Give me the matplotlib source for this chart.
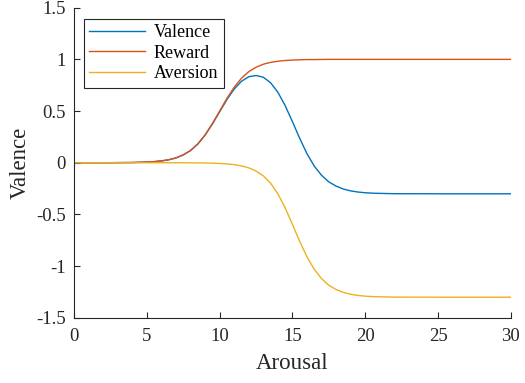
import numpy as np
import matplotlib
matplotlib.use('Agg')
import matplotlib.pyplot as plt

# values
arousal = [0, 2, 4, 5, 5.5, 6, 6.5, 7, 7.5, 8, 8.5, 9, 9.5, 10, 10.5, 11, 11.5,
           12, 12.5, 13, 13.5, 14, 14.5, 15, 15.5, 16, 16.5, 17, 17.5, 18, 18.5,
           19, 19.5, 20, 20.5, 21, 22, 25, 30]
reward = [0.0, 0.0003, 0.0025, 0.007, 0.011, 0.018, 0.029, 0.047, 0.076, 0.119,
          0.182, 0.269, 0.378, 0.500, 0.622, 0.731, 0.818, 0.881, 0.924, 0.953,
          0.971, 0.982, 0.989, 0.993, 0.996, 0.998, 0.998, 0.999, 1.0, 1.0, 1.0,
          1.0, 1.0, 1.0, 1.0, 1.0, 1.0, 1.0, 1.0]
aversion = [0.0, 0.0, 0.0, 0.0, 0.0, 0.0, 0.0, 0.0, 0.0, -0.001, -0.001, -0.002,
            -0.004, -0.007, -0.011, -0.018, -0.030, -0.049, -0.080, -0.126,
            -0.197, -0.300, -0.436, -0.595, -0.760, -0.910, -1.030, -1.120,
            -1.185, -1.226, -1.254, -1.272, -1.283, -1.290, -1.294, -1.296,
            -1.299, -1.300, -1.300]
valence = [0.0, 0.0003, 0.0025, 0.007, 0.011, 0.018, 0.029, 0.047, 0.076, 0.118,
           0.181, 0.267, 0.374, 0.493, 0.611, 0.713, 0.788, 0.832, 0.844, 0.827,
           0.774, 0.682, 0.553, 0.398, 0.236, 0.088, -0.032, -0.121, -0.185,
           -0.226, -0.254, -0.272, -0.283, -0.290, -0.294, -0.296, -0.299,
           -0.300, -0.300]

series = ['Valence', 'Reward', 'Aversion']
colors = ['#0072BD', '#D95319', '#EDB120']

plt.rcParams['font.family'] = ['Liberation Serif', 'DejaVu Serif']
plt.rcParams['axes.unicode_minus'] = False

fig = plt.figure(figsize=(5.25, 3.83), dpi=100)
ax = fig.add_axes([0.141, 0.17, 0.832, 0.81])

for name, y, c in zip(series, [valence, reward, aversion], colors):
    ax.plot(arousal, y, color=c, lw=1.0, label=name)

ax.set_xlim(0, 30)
ax.set_ylim(-1.5, 1.5)
ax.set_xticks([0, 5, 10, 15, 20, 25, 30])
ax.set_yticks([-1.5, -1, -0.5, 0, 0.5, 1, 1.5])
ax.set_yticklabels(['-1.5', '-1', '-0.5', '0', '0.5', '1', '1.5'])
ax.tick_params(direction='in', length=4, width=0.8, labelsize=13.5,
               colors='#262626')
ax.tick_params(axis='x', pad=7)
ax.tick_params(axis='y', pad=6)
for side in ['top', 'right']:
    ax.spines[side].set_visible(False)
for side in ['left', 'bottom']:
    ax.spines[side].set_color('#262626')
    ax.spines[side].set_linewidth(0.8)

ax.set_xlabel('Arousal', fontsize=16.5, color='#262626', labelpad=6)
ax.set_ylabel('Valence', fontsize=16.5, color='#262626', labelpad=4)

leg = ax.legend(loc='upper left', bbox_to_anchor=(0.023, 0.965), fontsize=13,
                fancybox=False, framealpha=1, edgecolor='#262626',
                handlelength=3.1, handletextpad=0.45, borderpad=0.3,
                labelspacing=0.2, borderaxespad=0)
leg.get_frame().set_linewidth(0.8)

fig.savefig('out.png', dpi=100)
